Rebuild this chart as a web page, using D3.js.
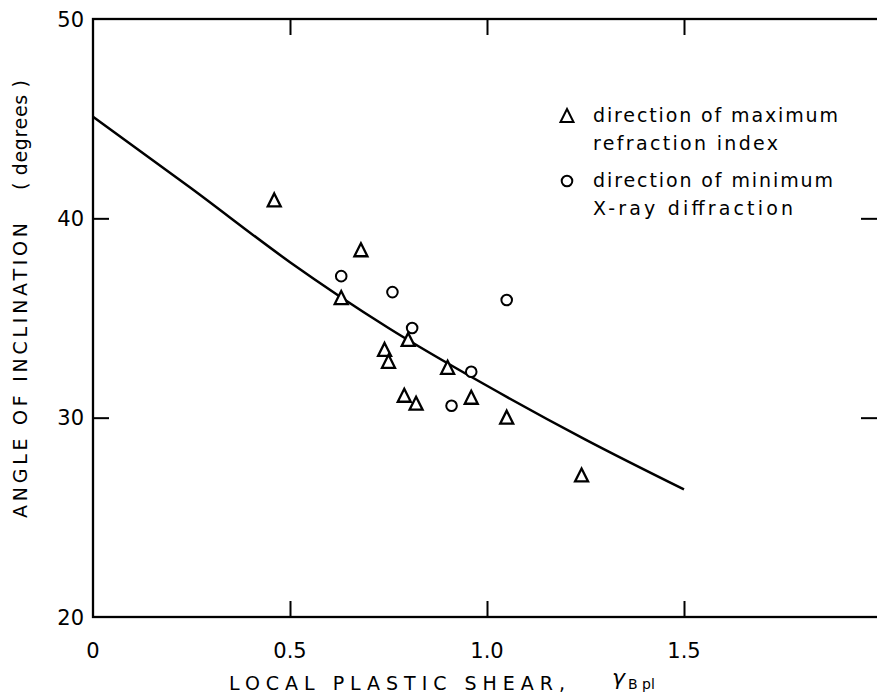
<!DOCTYPE html>
<html>
<head>
<meta charset="utf-8">
<script src="https://cdn.jsdelivr.net/npm/d3@7"></script>
<style>
body { margin: 0; background: #fff; }
text { font-family: "DejaVu Sans", "Liberation Sans", Arial, sans-serif; fill: #000; }
</style>
</head>
<body>
<div id="chart"></div>
<script>
// values

var triX = [0.46, 0.63, 0.68, 0.74, 0.75, 0.79, 0.80, 0.82, 0.90, 0.96, 1.05, 1.24]
var triY = [40.9, 36.0, 38.4, 33.4, 32.8, 31.1, 33.9, 30.7, 32.5, 31.0, 30.0, 27.1]

var circX = [0.63, 0.76, 0.81, 0.91, 0.96, 1.05]
var circY = [37.1, 36.3, 34.5, 30.6, 32.3, 35.9]

var curveX = [0, 0.25, 0.5, 0.75, 1.0, 1.25, 1.5]
var curveY = [45.1, 41.5, 37.8, 34.5, 31.6, 28.9, 26.4]

var xTicks = [0, 0.5, 1.0, 1.5]
var xTickLabels = ["0", "0.5", "1.0", "1.5"]
var yTicks = [20, 30, 40, 50]
var yTickLabels = ["20", "30", "40", "50"]

var legendLines = [
    ["direction of maximum", "refraction index"],
    ["direction of minimum", "X-ray diffraction"]
]

//setup SVG

var w = 877
var h = 696

var svg = d3.select("#chart")
    .append("svg")
    .attr("width", w)
    .attr("height", h)

var x = d3.scaleLinear().domain([0, 2]).range([93, 881])
var y = d3.scaleLinear().domain([20, 50]).range([617, 19])

// frame

svg.append("rect")
    .attr("x", x(0))
    .attr("y", y(50))
    .attr("width", x(2) - x(0))
    .attr("height", y(20) - y(50))
    .attr("fill", "none")
    .attr("stroke", "black")
    .attr("stroke-width", 2.3)

// inward ticks, drawn with d3 axes

var tickLen = 16

svg.append("g")
    .attr("transform", "translate(" + x(0) + ",0)")
    .call(d3.axisRight(y).tickValues([30, 40]).tickSize(tickLen).tickFormat(""))
svg.append("g")
    .attr("transform", "translate(" + w + ",0)")
    .call(d3.axisLeft(y).tickValues([30, 40]).tickSize(tickLen).tickFormat(""))
svg.append("g")
    .attr("transform", "translate(0," + y(20) + ")")
    .call(d3.axisTop(x).tickValues([0.5, 1.0, 1.5]).tickSize(tickLen).tickFormat(""))
svg.append("g")
    .attr("transform", "translate(0," + y(50) + ")")
    .call(d3.axisBottom(x).tickValues([0.5, 1.0, 1.5]).tickSize(tickLen).tickFormat(""))

svg.selectAll(".domain").remove()
svg.selectAll(".tick line").attr("stroke", "black").attr("stroke-width", 2)

// tick labels

svg.selectAll(".ylab")
    .data(yTicks)
    .enter().append("text")
    .attr("x", 84)
    .attr("y", d => y(d))
    .attr("dy", "0.36em")
    .attr("text-anchor", "end")
    .style("font-size", "21px")
    .text((d, i) => yTickLabels[i])

svg.selectAll(".xlab")
    .data(xTicks)
    .enter().append("text")
    .attr("x", d => x(d))
    .attr("y", 658)
    .attr("text-anchor", "middle")
    .style("font-size", "21px")
    .text((d, i) => xTickLabels[i])

// axis titles

var ytitle = svg.append("g").attr("transform", "translate(27,0) rotate(-90)")
ytitle.append("text")
    .attr("x", -518)
    .attr("y", 0)
    .attr("textLength", 295)
    .attr("lengthAdjust", "spacing")
    .style("font-size", "19px")
    .text("ANGLE OF INCLINATION")
ytitle.append("text")
    .attr("x", -190)
    .attr("y", 0)
    .attr("textLength", 110)
    .attr("lengthAdjust", "spacing")
    .style("font-size", "19px")
    .text("( degrees )")

svg.append("text")
    .attr("x", 229)
    .attr("y", 690)
    .attr("textLength", 336)
    .attr("lengthAdjust", "spacing")
    .style("font-size", "19px")
    .text("LOCAL PLASTIC SHEAR,")

var gam = svg.append("text")
    .attr("x", 612)
    .attr("y", 685)
    .style("font-size", "22px")
gam.append("tspan").style("font-style", "italic").text("γ")
gam.append("tspan").attr("dx", 3).attr("dy", 4).style("font-size", "14px").text("B pl")

// fitted curve

var curvePts = curveX.map((d, i) => [d, curveY[i]])

svg.append("path")
    .datum(curvePts)
    .attr("d", d3.line().x(d => x(d[0])).y(d => y(d[1])).curve(d3.curveMonotoneX))
    .attr("fill", "none")
    .attr("stroke", "black")
    .attr("stroke-width", 2.5)

// markers

var triPath = "M0,-7L6.5,6L-6.5,6Z"

svg.selectAll(".tri")
    .data(triX)
    .enter().append("path")
    .attr("d", triPath)
    .attr("transform", (d, i) => "translate(" + x(d) + "," + y(triY[i]) + ")")
    .attr("fill", "white")
    .attr("stroke", "black")
    .attr("stroke-width", 2.3)

svg.selectAll(".circ")
    .data(circX)
    .enter().append("circle")
    .attr("cx", d => x(d))
    .attr("cy", (d, i) => y(circY[i]))
    .attr("r", 5.3)
    .attr("fill", "white")
    .attr("stroke", "black")
    .attr("stroke-width", 2)

// legend

var legend = svg.append("g").attr("transform", "translate(567,0)")

legend.append("path")
    .attr("d", triPath)
    .attr("transform", "translate(0,116)")
    .attr("fill", "none")
    .attr("stroke", "black")
    .attr("stroke-width", 2)
legend.append("circle")
    .attr("cx", 0)
    .attr("cy", 181)
    .attr("r", 5.3)
    .attr("fill", "none")
    .attr("stroke", "black")
    .attr("stroke-width", 2)

var legendY = [[115, 143], [180, 208]]
var legendLen = [[245, 185], [240, 200]]
legendLines.forEach(function(lines, i) {
    lines.forEach(function(t, j) {
        legend.append("text")
            .attr("x", 26)
            .attr("y", legendY[i][j])
            .attr("dy", "0.35em")
            .attr("textLength", legendLen[i][j])
            .attr("lengthAdjust", "spacing")
            .style("font-size", "19px")
            .text(t)
    })
})
</script>
</body>
</html>
